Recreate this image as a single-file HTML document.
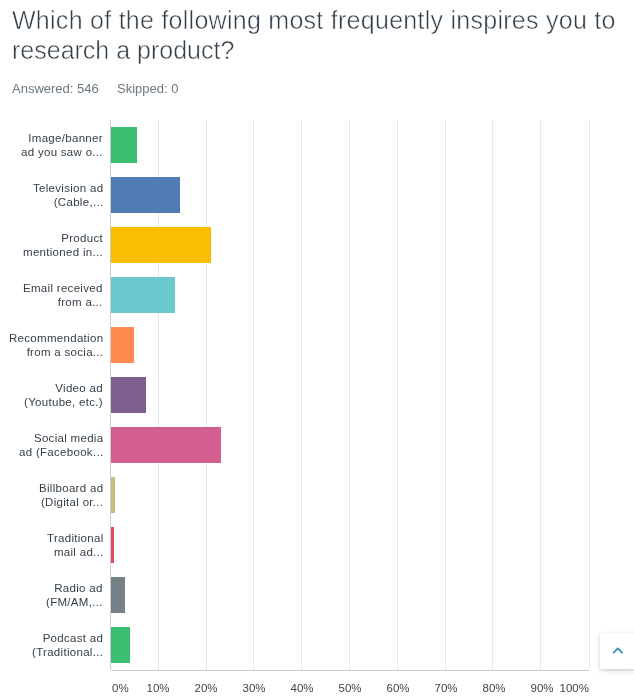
<!DOCTYPE html>
<html><head><meta charset="utf-8"><style>
html,body{margin:0;padding:0;background:#fff;width:634px;height:699px;overflow:hidden;position:relative;font-family:"Liberation Sans",sans-serif;}
.t,.meta,.lab,.tk{will-change:transform;}
.t{position:absolute;left:12px;font-size:25px;line-height:30px;color:#333e48;-webkit-text-stroke:0.5px #fff;white-space:nowrap;}
.meta{position:absolute;top:81.1px;font-size:13px;line-height:16px;color:#6b787f;white-space:nowrap;}
.lab{position:absolute;right:530.9px;font-size:11.5px;line-height:14px;letter-spacing:0.3px;color:#333e48;text-align:right;white-space:nowrap;}
.bar{position:absolute;left:111px;height:36px;}
.gl{position:absolute;top:120px;height:550px;width:1px;background:#e8eaea;}
.ax{position:absolute;background:#cccccc;}
.tk{position:absolute;top:681.7px;font-size:11.5px;line-height:13px;color:#3a454f;white-space:nowrap;}
.btn{position:absolute;left:599.5px;top:632.6px;width:38px;height:36.5px;background:#fff;box-shadow:0 1px 2px rgba(30,40,50,0.14),0 2px 6px rgba(30,40,50,0.12);}
</style></head><body>
<div class="t" style="top:5.3px;letter-spacing:0.27px">Which of the following most frequently inspires you to</div>
<div class="t" style="top:35.3px;letter-spacing:0.0px">research a product?</div>
<div class="meta" style="left:12px">Answered: 546</div>
<div class="meta" style="left:116.5px">Skipped: 0</div>
<div class="gl" style="left:158px"></div><div class="gl" style="left:206px"></div><div class="gl" style="left:253px"></div><div class="gl" style="left:301px"></div><div class="gl" style="left:349px"></div><div class="gl" style="left:397px"></div><div class="gl" style="left:445px"></div><div class="gl" style="left:492px"></div><div class="gl" style="left:540px"></div><div class="gl" style="left:589px"></div>
<div class="ax" style="left:110px;top:120px;width:1px;height:550px"></div>
<div class="ax" style="left:111px;top:670px;width:478px;height:1px"></div>
<div class="lab" style="top:130.7px">Image/banner<br>ad you saw o...</div><div class="bar" style="top:127px;width:26px;background:#39bf6f"></div><div class="lab" style="top:180.7px">Television ad<br>(Cable,...</div><div class="bar" style="top:177px;width:69px;background:#507cb6"></div><div class="lab" style="top:230.7px">Product<br>mentioned in...</div><div class="bar" style="top:227px;width:100px;background:#f9be00"></div><div class="lab" style="top:280.7px">Email received<br>from a...</div><div class="bar" style="top:277px;width:64px;background:#6bc8cd"></div><div class="lab" style="top:330.7px">Recommendation<br>from a socia...</div><div class="bar" style="top:327px;width:23px;background:#ff8b4f"></div><div class="lab" style="top:380.7px">Video ad<br>(Youtube, etc.)</div><div class="bar" style="top:377px;width:35px;background:#7f5e90"></div><div class="lab" style="top:430.7px">Social media<br>ad (Facebook...</div><div class="bar" style="top:427px;width:110px;background:#d25f90"></div><div class="lab" style="top:480.7px">Billboard ad<br>(Digital or...</div><div class="bar" style="top:477px;width:4px;background:#c9bc7e"></div><div class="lab" style="top:530.7px">Traditional<br>mail ad...</div><div class="bar" style="top:527px;width:3px;background:#dd4b60"></div><div class="lab" style="top:580.7px">Radio ad<br>(FM/AM,...</div><div class="bar" style="top:577px;width:14px;background:#768087"></div><div class="lab" style="top:630.7px">Podcast ad<br>(Traditional...</div><div class="bar" style="top:627px;width:19px;background:#39bf6f"></div>
<div class="tk" style="left:111.5px">0%</div><div class="tk" style="left:108.4px;width:100px;text-align:center">10%</div><div class="tk" style="left:156.3px;width:100px;text-align:center">20%</div><div class="tk" style="left:204.2px;width:100px;text-align:center">30%</div><div class="tk" style="left:252.1px;width:100px;text-align:center">40%</div><div class="tk" style="left:300.0px;width:100px;text-align:center">50%</div><div class="tk" style="left:347.9px;width:100px;text-align:center">60%</div><div class="tk" style="left:395.8px;width:100px;text-align:center">70%</div><div class="tk" style="left:443.7px;width:100px;text-align:center">80%</div><div class="tk" style="left:491.6px;width:100px;text-align:center">90%</div><div class="tk" style="left:489.0px;width:100px;text-align:right">100%</div>
<div class="btn"><svg width="38" height="37" style="position:absolute;left:0;top:0"><polyline points="13.15,20.05 17.85,15.5 22.55,20.05" fill="none" stroke="#2b8ab9" stroke-width="1.7"/></svg></div>
</body></html>
